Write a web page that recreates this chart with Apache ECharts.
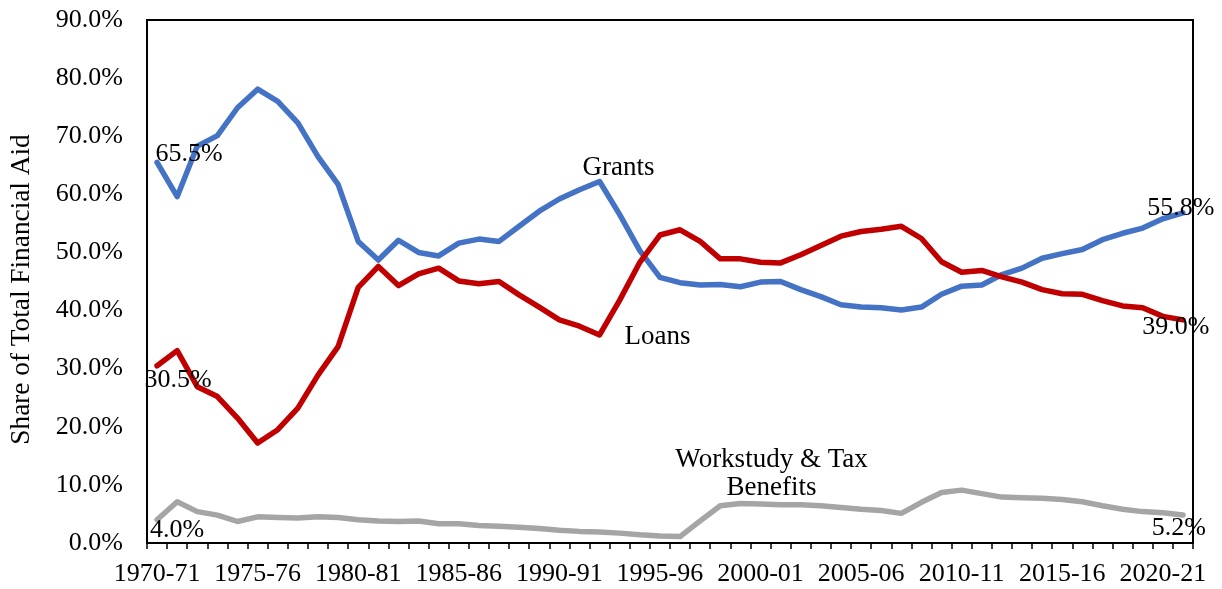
<!DOCTYPE html>
<html>
<head>
<meta charset="utf-8">
<script src="https://cdn.jsdelivr.net/npm/echarts@6/dist/echarts.min.js"></script>
<style>
html,body{margin:0;padding:0;background:#fff;}
#chart{width:1222px;height:589px;}
</style>
</head>
<body>
<div id="chart"></div>
<script>
const categories = ["1970-71","1971-72","1972-73","1973-74","1974-75","1975-76","1976-77","1977-78","1978-79","1979-80",
  "1980-81","1981-82","1982-83","1983-84","1984-85","1985-86","1986-87","1987-88","1988-89","1989-90",
  "1990-91","1991-92","1992-93","1993-94","1994-95","1995-96","1996-97","1997-98","1998-99","1999-00",
  "2000-01","2001-02","2002-03","2003-04","2004-05","2005-06","2006-07","2007-08","2008-09","2009-10",
  "2010-11","2011-12","2012-13","2013-14","2014-15","2015-16","2016-17","2017-18","2018-19","2019-20",
  "2020-21","2021-22"];

const grants = [65.5,59.6,68.3,70.1,74.9,78.1,76.0,72.3,66.5,61.7,
  51.9,48.7,52.1,50.0,49.4,51.6,52.3,51.9,54.5,57.1,
  59.2,60.8,62.2,56.5,50.3,45.7,44.8,44.4,44.5,44.1,
  44.9,45.0,43.6,42.4,41.0,40.6,40.5,40.1,40.6,42.8,
  44.2,44.4,46.2,47.3,49.0,49.8,50.5,52.2,53.3,54.2,
  55.8,56.8];

const loans = [30.5,33.1,26.9,25.2,21.5,17.2,19.5,23.2,28.9,33.8,
  44.0,47.6,44.3,46.3,47.3,45.1,44.6,45.0,42.7,40.6,
  38.4,37.3,35.8,41.8,48.3,53.0,53.9,51.9,48.9,48.9,
  48.3,48.2,49.6,51.2,52.8,53.6,54.0,54.5,52.4,48.4,
  46.6,46.9,45.8,44.9,43.6,42.9,42.8,41.7,40.8,40.5,
  39.0,38.4];

const workstudy = [4.0,7.1,5.4,4.8,3.7,4.5,4.4,4.3,4.5,4.4,
  4.0,3.8,3.7,3.8,3.3,3.3,3.0,2.9,2.7,2.5,
  2.2,2.0,1.9,1.7,1.4,1.2,1.1,3.8,6.4,6.8,
  6.7,6.6,6.6,6.4,6.1,5.8,5.6,5.1,7.0,8.7,
  9.1,8.5,7.9,7.8,7.7,7.5,7.1,6.4,5.8,5.4,
  5.2,4.8];

const seriesNames = ["Grants", "Loans", "Workstudy & Tax Benefits"];
const seriesLabels = ["Grants", "Loans", "Workstudy & Tax\nBenefits"];
const seriesColors = ["#4472C4", "#C00000", "#A5A5A5"];

// annotation anchors: data index, whether it shows the series name, label offset
const notes = [
  [{i:0, offset:[32,-8]}, {i:50, offset:[18,-11]}, {i:22, name:true, offset:[19,-14]}],
  [{i:0, offset:[21,14]}, {i:50, offset:[13,11]}, {i:22, name:true, offset:[58,2]}],
  [{i:0, offset:[20,10]}, {i:50, offset:[16,15]}, {i:30, name:true, offset:[11,-30]}]
];

const FONT = "Liberation Serif";
const FS = 26;

function buildData(values, seriesIdx) {
  return values.map(function (v, i) {
    const n = notes[seriesIdx].find(function (a) { return a.i === i; });
    if (!n) return v;
    return {
      value: v,
      label: {
        show: true,
        position: "inside",
        offset: n.offset,
        fontSize: n.name ? 27 : FS,
        formatter: n.name ? seriesLabels[seriesIdx] : v.toFixed(1) + "%"
      }
    };
  });
}

const allValues = [grants, loans, workstudy];

const chart = echarts.init(document.getElementById("chart"), null, {renderer: "canvas"});
chart.setOption({
  animation: false,
  backgroundColor: "#fff",
  textStyle: {fontFamily: FONT, color: "#000"},
  grid: {
    left: 147, right: 29, top: 20, bottom: 46,
    show: true, borderColor: "#000", borderWidth: 2, backgroundColor: "transparent"
  },
  xAxis: {
    type: "category",
    data: categories,
    boundaryGap: true,
    axisLine: {show: true, lineStyle: {color: "#000", width: 2}},
    axisTick: {show: true, interval: 0, length: 6, lineStyle: {color: "#000", width: 1.5}},
    axisLabel: {interval: 4, color: "#000", fontFamily: FONT, fontSize: FS, margin: 18, hideOverlap: false},
    splitLine: {show: false}
  },
  yAxis: {
    type: "value",
    min: 0, max: 90, interval: 10,
    axisLine: {show: true, lineStyle: {color: "#000", width: 2}},
    axisTick: {show: false},
    splitLine: {show: false},
    axisLabel: {
      color: "#000", fontFamily: FONT, fontSize: FS, margin: 24,
      formatter: function (v) { return v.toFixed(1) + "%"; }
    },
    name: "Share of Total Financial Aid",
    nameLocation: "middle",
    nameGap: 112,
    nameTextStyle: {color: "#000", fontFamily: FONT, fontSize: 27.3, padding: [0, 16, 0, 0]}
  },
  series: allValues.map(function (vals, s) {
    return {
      name: seriesNames[s],
      type: "line",
      data: buildData(vals, s),
      symbol: "circle",
      symbolSize: 0,
      showSymbol: true,
      showAllSymbol: true,
      lineStyle: {color: seriesColors[s], width: 5.5, join: "round", cap: "round"},
      itemStyle: {color: seriesColors[s]},
      label: {show: false, color: "#000", fontFamily: FONT, fontSize: FS, lineHeight: 28},
      emphasis: {disabled: true},
      z: 2 + s
    };
  })
});
</script>
</body>
</html>
